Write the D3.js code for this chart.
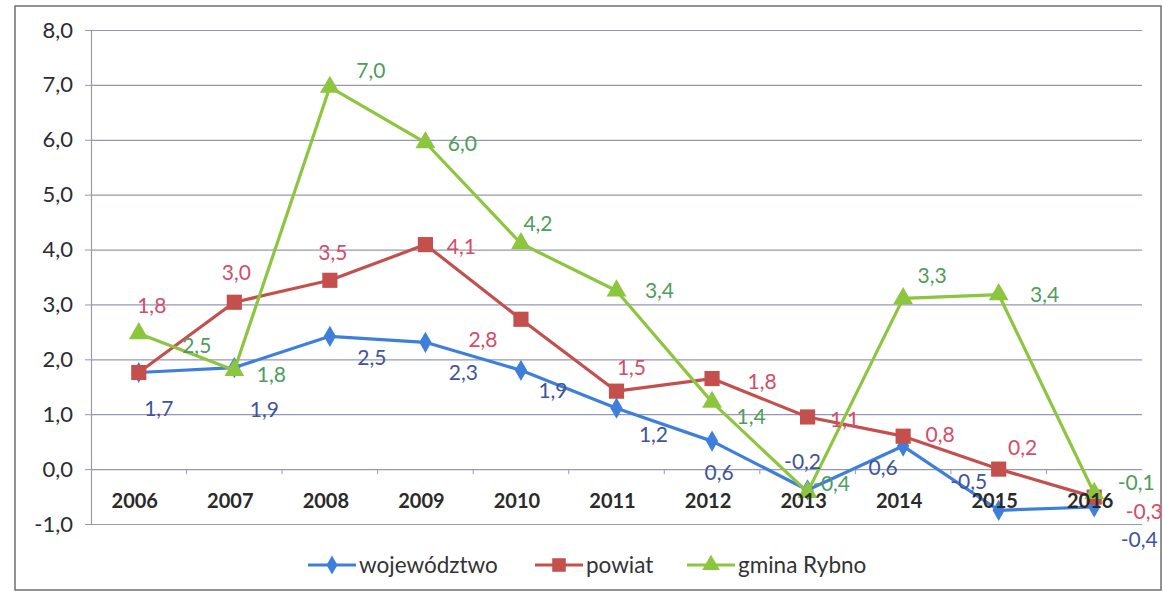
<!DOCTYPE html>
<html>
<head>
  <meta charset="utf-8">
  <title>Dynamika - województwo, powiat, gmina Rybno</title>
  <style>
    body { margin: 0; background: #fff; }
    svg { display: block; }
  </style>
</head>
<body>
  <script src="https://cdn.jsdelivr.net/npm/d3@7"></script>
  <script>
  'use strict'

  // data
  const years = ['2006', '2007', '2008', '2009', '2010', '2011', '2012', '2013', '2014', '2015', '2016']
  const yTicks = [-1, 0, 1, 2, 3, 4, 5, 6, 7, 8]

  const wojewodztwo = [1.76, 1.85, 2.42, 2.31, 1.8, 1.11, 0.51, -0.38, 0.42, -0.75, -0.69]
  const powiat = [1.76, 3.04, 3.44, 4.09, 2.73, 1.42, 1.65, 0.95, 0.6, 0.0, -0.51]
  const gmina = [2.47, 1.8, 6.96, 5.95, 4.11, 3.25, 1.22, -0.42, 3.11, 3.18, -0.44]

  // data labels as printed on the chart
  const wojLabels = ['1,7', '1,9', '2,5', '2,3', '1,9', '1,2', '0,6', '-0,2', '0,6', '-0,5', '-0,4']
  const powLabels = ['1,8', '3,0', '3,5', '4,1', '2,8', '1,5', '1,8', '1,1', '0,8', '0,2', '-0,3']
  const gmiLabels = ['2,5', '1,8', '7,0', '6,0', '4,2', '3,4', '1,4', '-0,4', '3,3', '3,4', '-0,1']

  // label placement (offset from marker, px)
  const wojOff = [[20, 36], [30, 42], [42, 21], [38, 30], [32, 20], [37, 26], [7, 32], [-5, -28], [-20, 22], [-30, -29], [45, 33]]
  const powOff = [[13, -67], [2, -30], [3, -28], [36, 2], [-38, 20], [15, -24], [50, 3], [37, 3], [37, -2], [24, -21], [50, 15]]
  const gmiOff = [[58, 12], [37, 4], [41, -16], [37, 1], [17, -20], [43, 0], [39, 15], [24, -9], [29, -23], [46, 0], [42, -11]]

  const W = 1163
  const H = 601
  const plotLeft = 91, plotRight = 1142, plotTop = 30, plotBottom = 524

  const svg = d3.select('body').append('svg')
    .attr('width', W)
    .attr('height', H)

  // outer frame
  svg.append('rect')
    .attr('x', 15).attr('y', 6)
    .attr('width', 1146).attr('height', 584)
    .attr('fill', 'none')
    .attr('stroke', '#6f6f73')
    .attr('stroke-width', 1.5)

  const x = d3.scaleBand().domain(years).range([plotLeft, plotRight])
  const y = d3.scaleLinear().domain([-1, 8]).range([plotBottom, plotTop])

  // gridlines
  svg.append('g')
    .attr('transform', `translate(${plotLeft},0)`)
    .call(d3.axisLeft(y).tickValues(yTicks).tickSize(-(plotRight - plotLeft)).tickFormat(''))
    .call(g => g.select('.domain').remove())
    .call(g => g.selectAll('line').attr('stroke', '#9597b8').attr('stroke-width', 1.2))

  // y axis
  svg.append('g')
    .attr('transform', `translate(${plotLeft},0)`)
    .call(d3.axisLeft(y).tickValues(yTicks).tickSize(6).tickPadding(12)
      .tickFormat(d => d3.format('.1f')(d).replace('.', ',').replace('−', '-')))
    .call(g => g.select('.domain').attr('stroke', '#9a9aa8').attr('stroke-width', 1.2))
    .call(g => g.selectAll('line').attr('stroke', '#9597b8'))
    .call(g => g.selectAll('text')
      .attr('font-family', 'Lato, sans-serif')
      .attr('font-size', 22)
      .attr('fill', '#2b2b33'))

  // x axis on the zero line (ticks between categories)
  svg.append('g')
    .selectAll('line')
    .data(years.slice(1))
    .join('line')
    .attr('x1', d => x(d)).attr('x2', d => x(d))
    .attr('y1', y(0)).attr('y2', y(0) + 5)
    .attr('stroke', '#9a9aa8')

  const cx = d => x(d) + x.bandwidth() / 2

  const series = [
    { name: 'województwo', values: wojewodztwo, labels: wojLabels, off: wojOff, color: '#3f7fdc', text: '#40549a', shape: d3.symbolDiamond, size: 130 },
    { name: 'powiat', values: powiat, labels: powLabels, off: powOff, color: '#c4504e', text: '#d44c68', shape: d3.symbolSquare, size: 230 },
    { name: 'gmina Rybno', values: gmina, labels: gmiLabels, off: gmiOff, color: '#8cc63f', text: '#4f9c5c', shape: d3.symbolTriangle, size: 170 }
  ]

  const line = d3.line()
    .x((d, i) => cx(years[i]))
    .y(d => y(d))

  series.forEach(s => {
    svg.append('path')
      .datum(s.values)
      .attr('d', line)
      .attr('fill', 'none')
      .attr('stroke', s.color)
      .attr('stroke-width', 3.2)
      .attr('stroke-linejoin', 'round')

    svg.append('g')
      .selectAll('path')
      .data(s.values)
      .join('path')
      .attr('d', d3.symbol().type(s.shape).size(s.size))
      .attr('transform', (d, i) => `translate(${cx(years[i])},${y(d)})`)
      .attr('fill', s.color)
  })

  // category labels sit on top of the lines, as in the original
  svg.append('g')
    .selectAll('text')
    .data(years)
    .join('text')
    .attr('x', d => cx(d) - 4)
    .attr('y', 508)
    .attr('text-anchor', 'middle')
    .attr('font-family', 'Lato, sans-serif')
    .attr('font-weight', 'bold')
    .attr('font-size', 20)
    .attr('fill', '#2a2a2a')
    .text(d => d)

  // data labels
  series.forEach(s => {
    svg.append('g')
      .selectAll('text')
      .data(s.values)
      .join('text')
      .attr('x', (d, i) => cx(years[i]) + s.off[i][0])
      .attr('y', (d, i) => y(d) + s.off[i][1])
      .attr('dy', '0.35em')
      .attr('text-anchor', 'middle')
      .attr('font-family', 'Lato, sans-serif')
      .attr('font-size', 21)
      .attr('fill', s.text)
      .text((d, i) => s.labels[i])
  })

  // legend
  const legendX = [308, 535, 687]
  const legend = svg.append('g')
    .selectAll('g')
    .data(series)
    .join('g')
    .attr('transform', (d, i) => `translate(${legendX[i]},565)`)

  legend.append('line')
    .attr('x1', 0).attr('x2', 48)
    .attr('stroke', d => d.color)
    .attr('stroke-width', 3.2)

  legend.append('path')
    .attr('d', d => d3.symbol().type(d.shape).size(d.size * 0.8)())
    .attr('transform', 'translate(24,0)')
    .attr('fill', d => d.color)

  legend.append('text')
    .attr('x', 51)
    .attr('dy', '0.35em')
    .attr('font-family', 'Lato, sans-serif')
    .attr('font-size', 22.5)
    .attr('fill', '#333')
    .text(d => d.name)
  </script>
</body>
</html>
